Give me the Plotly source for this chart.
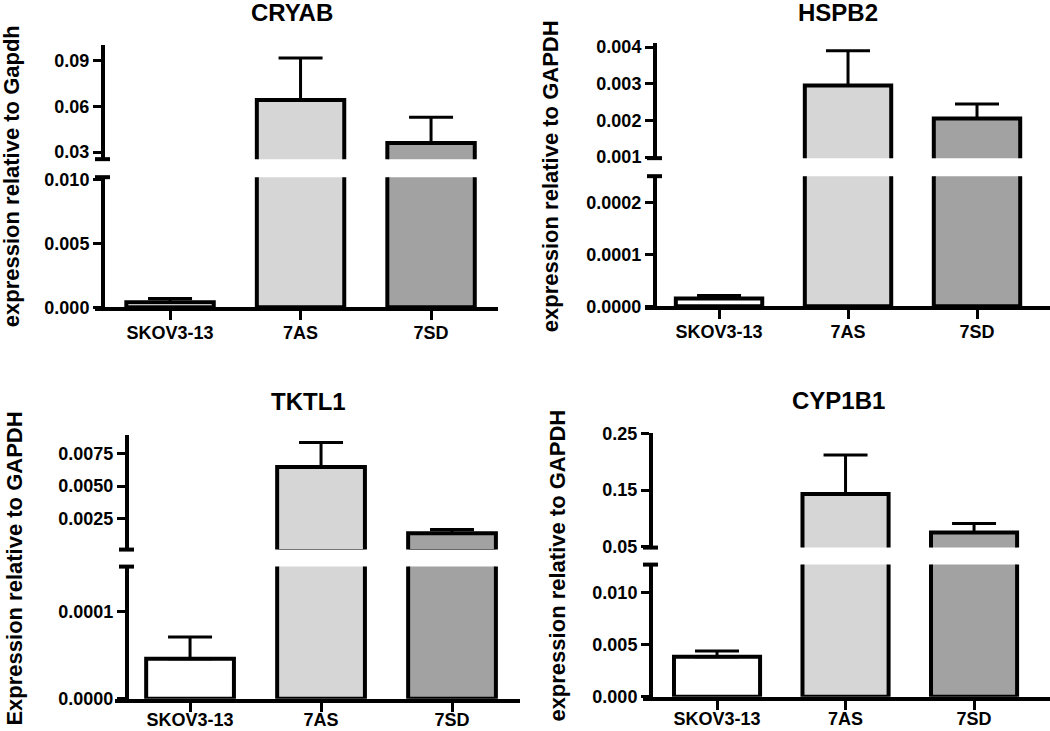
import plotly.graph_objects as go

W = 1050
# the captured page comes out squeezed vertically (about 0.972, with ~10px on top),
# so page rows are placed to land on the reference pixel rows
SHOT_TOP = 10
SHOT_SCALE = 0.972
H = round((731 - SHOT_TOP) / SHOT_SCALE)
FONT = "Liberation Sans, Arial, sans-serif"

groups = ["SKOV3-13", "7AS", "7SD"]
bar_colors = ["#ffffff", "#d6d6d6", "#a2a2a2"]

genes = ["CRYAB", "HSPB2", "TKTL1", "CYP1B1"]
ylabels = [
    "expression relative to Gapdh",
    "expression relative to GAPDH",
    "Expression relative to GAPDH",
    "expression relative to GAPDH",
]

cryab_mean = [0.0004, 0.0643, 0.0360]
cryab_err = [0.0003, 0.0277, 0.0170]
hspb2_mean = [0.000015, 0.00295, 0.00205]
hspb2_err = [0.000006, 0.00095, 0.00040]
tktl1_mean = [0.000046, 0.00646, 0.00135]
tktl1_err = [0.000025, 0.00190, 0.00030]
cyp1b1_mean = [0.00385, 0.143, 0.075]
cyp1b1_err = [0.00055, 0.069, 0.016]

# tick labels for the upper / lower part of each broken axis
upper_ticks = [
    ["0.03", "0.06", "0.09"],
    ["0.001", "0.002", "0.003", "0.004"],
    ["0.0025", "0.0050", "0.0075"],
    ["0.05", "0.15", "0.25"],
]
lower_ticks = [
    ["0.000", "0.005", "0.010"],
    ["0.0000", "0.0001", "0.0002"],
    ["0.0000", "0.0001"],
    ["0.000", "0.005", "0.010"],
]

means = [cryab_mean, hspb2_mean, tktl1_mean, cyp1b1_mean]
errs = [cryab_err, hspb2_err, tktl1_err, cyp1b1_err]

# layout of each panel, in pixels of the 1050x731 reference
panels = [
    dict(xdom=(95, 498), xr=(-0.575, 2.513), yx=103,
         up=(45, 159), upr=(0.0254, 0.1005), lo=(177, 307), lor=(0, 0.0102),
         title=(292, 12), ytitle=(11, 176), lab_off=-3),
    dict(xdom=(645, 1050), xr=(-0.574, 2.566), yx=655,
         up=(43, 158), upr=(0.00097, 0.00411), lo=(176, 306), lor=(0, 0.00025),
         title=(838, 12), ytitle=(550, 176), lab_off=-3),
    dict(xdom=(115, 520), xr=(-0.573, 2.519), yx=127,
         up=(435, 549), upr=(0.0001, 0.0089), lo=(566, 698), lor=(0, 0.000152),
         title=(308, 401), ytitle=(15, 568), lab_off=-7),
    dict(xdom=(643, 1050), xr=(-0.576, 2.591), yx=651,
         up=(433, 547), upr=(0.0482, 0.25), lo=(564, 696), lor=(0, 0.0127),
         title=(838, 400), ytitle=(558, 565), lab_off=-6),
]


def px(x):
    return x / W


def py(y):
    return 1 - ((y - SHOT_TOP) / SHOT_SCALE) / H


fig = go.Figure()
shapes = []
annotations = []
layout = {}

for i, p in enumerate(panels):
    n_lo = 2 * i + 1
    n_up = 2 * i + 2
    sfx_lo = "" if n_lo == 1 else str(n_lo)
    sfx_up = str(n_up)

    # bars that stay under the break are left out of the upper piece
    y_up = [v if v > p["upr"][0] else None for v in means[i]]
    for sfx, yv in ((sfx_lo, means[i]), (sfx_up, y_up)):
        fig.add_trace(
            go.Bar(
                x=groups,
                y=yv,
                width=0.67,
                marker=dict(color=bar_colors, line=dict(color="black", width=4)),
                error_y=dict(
                    type="data",
                    symmetric=False,
                    array=errs[i],
                    arrayminus=[0, 0, 0],
                    color="black",
                    thickness=3,
                    width=22,
                ),
                xaxis="x" + sfx,
                yaxis="y" + sfx,
                showlegend=False,
                hoverinfo="skip",
            )
        )

    xdom = [px(p["xdom"][0]), min(1.0, px(p["xdom"][1]))]
    layout["xaxis" + sfx_lo] = dict(
        domain=xdom, range=list(p["xr"]), type="category", anchor="y" + sfx_lo,
        showline=True, linewidth=4, linecolor="black", ticks="outside",
        ticklen=9, tickwidth=3, tickcolor="black", showgrid=False, zeroline=False,
        ticklabelstandoff=p["lab_off"],
        tickfont=dict(family=FONT, size=18, color="black", weight=700),
    )
    layout["xaxis" + sfx_up] = dict(
        domain=xdom, range=list(p["xr"]), type="category", anchor="y" + sfx_up,
        visible=False,
    )

    common_y = dict(
        anchor="free", position=px(p["yx"]), showline=True, linewidth=4,
        linecolor="black", ticks="outside", ticklen=8, tickwidth=3,
        tickcolor="black", showgrid=False, zeroline=False,
        tickfont=dict(family=FONT, size=18, color="black", weight=700),
    )
    layout["yaxis" + sfx_lo] = dict(
        common_y, domain=[py(p["lo"][1]), py(p["lo"][0])], range=list(p["lor"]),
        tickvals=[float(t) for t in lower_ticks[i]], ticktext=lower_ticks[i],
    )
    layout["yaxis" + sfx_up] = dict(
        common_y, domain=[py(p["up"][1]), py(p["up"][0])], range=list(p["upr"]),
        tickvals=[float(t) for t in upper_ticks[i]], ticktext=upper_ticks[i],
    )

    # break caps at the ends of the two axis pieces
    for yy in (p["up"][1], p["lo"][0]):
        shapes.append(dict(
            type="line", xref="paper", yref="paper",
            x0=px(p["yx"] - 8), x1=px(p["yx"] + 7), y0=py(yy), y1=py(yy),
            line=dict(color="black", width=4),
        ))

    annotations.append(dict(
        text=genes[i], xref="paper", yref="paper",
        x=px(p["title"][0]), y=py(p["title"][1]), showarrow=False,
        xanchor="center", yanchor="middle",
        font=dict(family=FONT, size=24, color="black", weight=700),
    ))
    annotations.append(dict(
        text=ylabels[i], xref="paper", yref="paper", textangle=-90,
        x=px(p["ytitle"][0]), y=py(p["ytitle"][1]), showarrow=False,
        xanchor="center", yanchor="middle",
        font=dict(family=FONT, size=22, color="black", weight=700),
    ))

fig.update_layout(
    **layout,
    shapes=shapes,
    annotations=annotations,
    width=W,
    height=H,
    margin=dict(l=0, r=0, t=0, b=0),
    paper_bgcolor="white",
    plot_bgcolor="white",
)

# drop the browser's default body margin so the figure starts at the page corner
fig.write_html(
    "out.html",
    config={"displayModeBar": False},
    post_script="document.body.style.margin='0';document.body.style.overflow='hidden';",
)
